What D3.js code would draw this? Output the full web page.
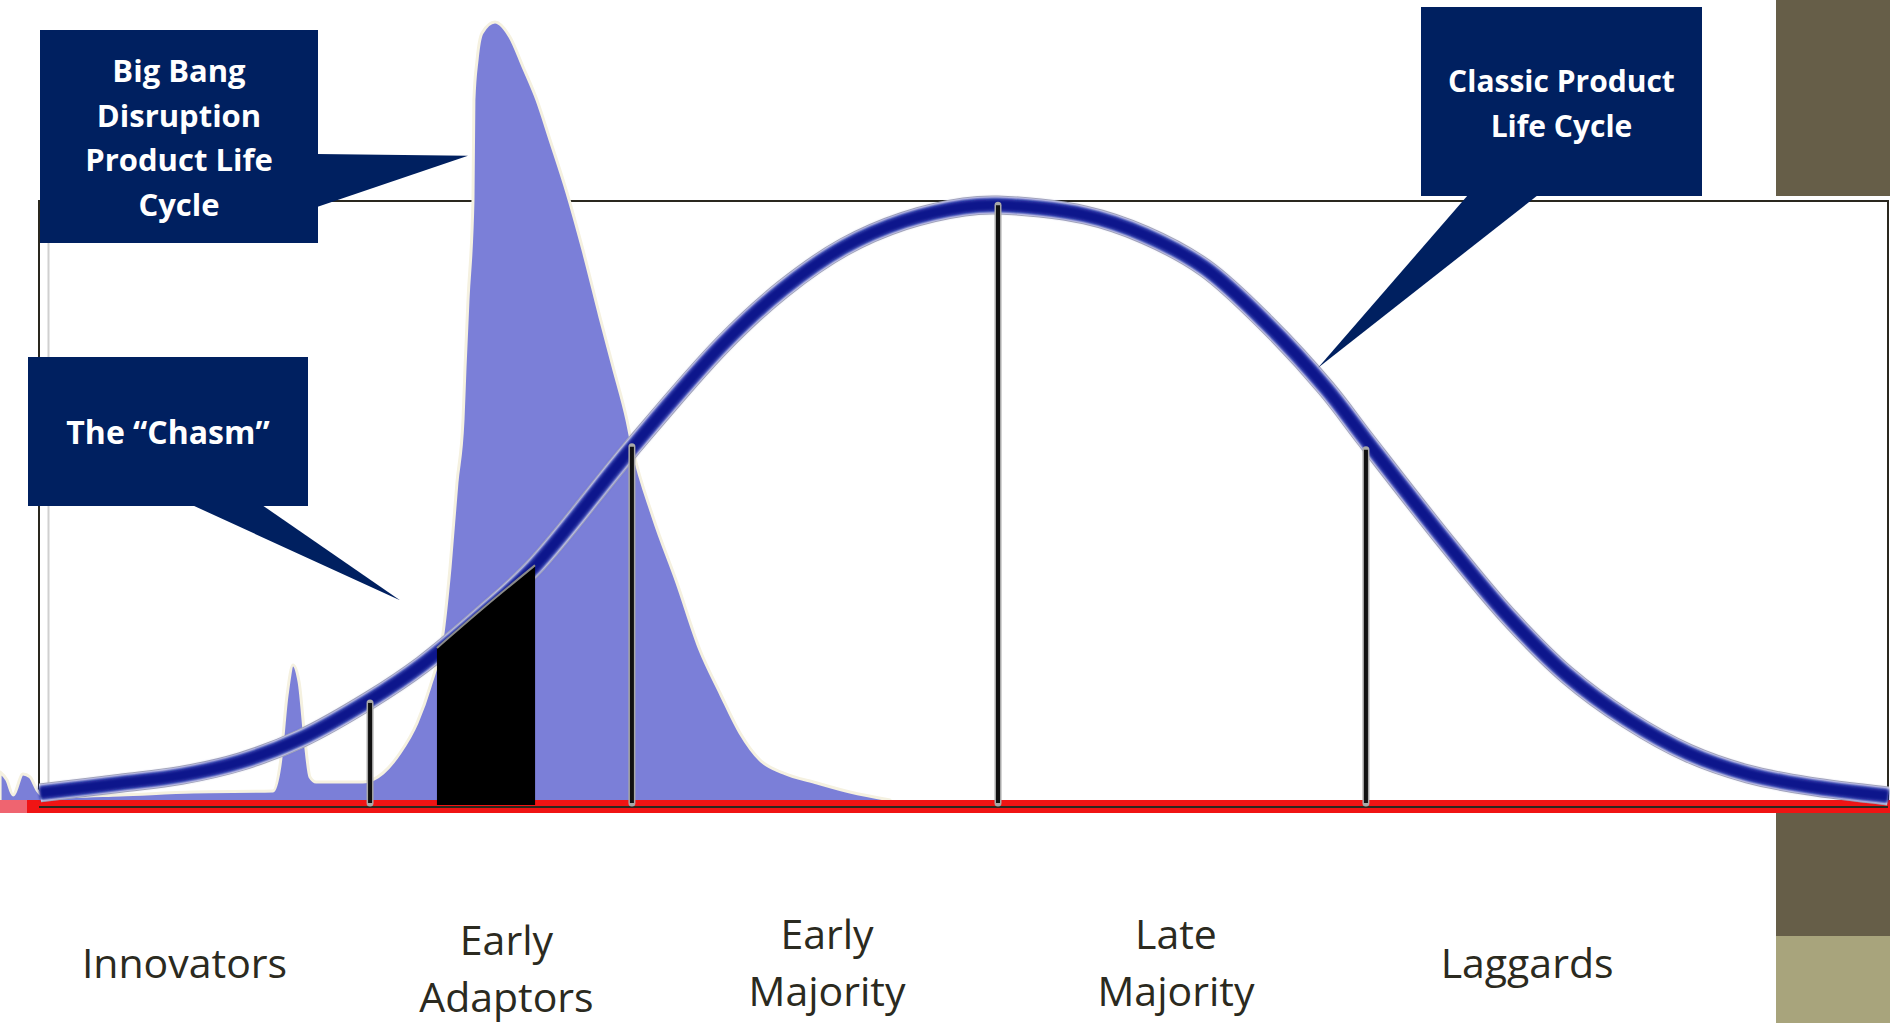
<!DOCTYPE html>
<html>
<head>
<meta charset="utf-8">
<script src="https://cdn.jsdelivr.net/npm/d3@7"></script>
<style>
  html, body { margin: 0; padding: 0; background: #ffffff; overflow: hidden; }
  svg { display: block; }
</style>
</head>
<body>
<svg id="chart"></svg>
<script>
// ---- Data (x: adoption time, 0–100 across the plot; y: adoption share, 0–100 = plot height) ----

// Classic product life cycle (bell curve)
const bellX = [0, 4.36, 7.63, 10.88, 14.12, 17.86, 20.67, 23.92, 26.73, 31.93, 36.96, 40.21, 43.51, 46.75,
               50.0, 51.84, 56.55, 59.79, 63.04, 66.34, 69.59, 71.75, 76.08, 79.38, 82.63, 85.88, 89.18,
               92.42, 95.67, 100];
const bellY = [2.0, 3.6, 4.9, 7.2, 11.0, 17.4, 23.18, 31.46, 39.40, 58.77, 76.32, 85.43, 92.38, 96.69,
               99.01, 99.34, 97.68, 94.37, 88.91, 79.8, 69.0, 60.43, 43.54, 31.46, 21.52, 14.2, 8.61,
               5.13, 3.15, 1.49];

// Big Bang disruption life cycle (filled area)
const bigBangX = [-2.16, -1.79, -1.46, -0.92, -0.54, -0.16, 0.27, 4.33, 8.28, 12.61, 12.99, 13.37, 13.69,
                  14.02, 14.34, 14.61, 14.94, 17.48, 18.56, 19.48, 20.40, 21.10, 21.81, 22.19, 22.56, 22.89,
                  23.00, 23.16, 23.43, 23.48, 23.65, 23.92, 24.62, 25.43, 26.14, 26.89, 27.60, 28.52, 29.38,
                  30.30, 31.01, 31.76, 32.09, 33.17, 34.47, 35.71, 36.80, 37.88, 38.96, 40.21, 42.05, 43.83,
                  46.00];
const bigBangY = [5.46, 4.14, 1.66, 5.13, 4.64, 2.48, 1.32, 1.66, 2.15, 2.32, 6.62, 18.21, 23.18,
                  20.36, 10.76, 4.64, 3.81, 3.81, 5.30, 8.61, 13.58, 19.54, 28.48, 39.40, 53.31, 63.74,
                  72.52, 83.61, 100.17, 116.72, 123.34, 127.81, 129.64, 127.15, 122.19, 116.72, 110.10, 101.32, 91.89,
                  80.79, 72.52, 63.74, 58.77, 47.68, 36.75, 25.66, 18.54, 11.92, 7.45, 5.30, 3.64, 2.15,
                  0.83];

// Segment boundaries on the bell curve
const markerX = [17.86, 32.03, 51.84, 71.75];
const markerTop = [16.9, 59.3, 99.3, 58.8];

// The chasm band
const chasmX = [21.48, 24.1, 26.79];
const chasmTop = [26.0, 32.9, 39.7];

// Adopter segments
const segmentNames = [["Innovators"], ["Early", "Adaptors"], ["Early", "Majority"], ["Late", "Majority"], ["Laggards"]];
const segmentX = [7.82, 25.24, 42.59, 61.47, 80.47];

// Callout texts and the points they refer to
const bigBangLabel = ["Big Bang", "Disruption", "Product Life", "Cycle"];
const chasmLabel = ["The \u201CChasm\u201D"];
const classicLabel = ["Classic Product", "Life Cycle"];
const calloutTargets = [[23.16, 107.5], [19.48, 33.9], [69.16, 72.4]];

// ---- Layout ----
const W = 1890, H = 1023;
const svg = d3.select("#chart").attr("width", W).attr("height", H);
svg.append("rect").attr("width", W).attr("height", H).attr("fill", "#ffffff");

const x = d3.scaleLinear().domain([0, 100]).range([40, 1888]);
const y = d3.scaleLinear().domain([0, 100]).range([805, 201]);

const defs = svg.append("defs");
defs.append("filter").attr("id", "soft")
  .attr("x", "-5%").attr("y", "-5%").attr("width", "110%").attr("height", "110%")
  .append("feGaussianBlur").attr("stdDeviation", 1.5);

const bell = bellX.map((v, i) => ({ x: v, y: bellY[i] }));
const bigBang = bigBangX.map((v, i) => ({ x: v, y: bigBangY[i] }));
const chasm = chasmX.map((v, i) => ({ x: v, y: chasmTop[i] }));

// Plot frame
svg.append("rect")
  .attr("x", x(0) - 1).attr("y", y(100)).attr("width", x(100) - x(0) + 1).attr("height", y(0) - y(100) + 2)
  .attr("fill", "none").attr("stroke", "#2a281f").attr("stroke-width", 2);
svg.append("line")
  .attr("x1", x(0) + 8.5).attr("x2", x(0) + 8.5).attr("y1", y(100) + 2).attr("y2", y(0))
  .attr("stroke", "#d0d0d0").attr("stroke-width", 2);

// Big Bang area
const area = d3.area().x(d => x(d.x)).y0(y(0)).y1(d => y(d.y)).curve(d3.curveMonotoneX);
svg.append("path").datum(bigBang).attr("d", area)
  .attr("fill", "#7b7fd8").attr("stroke", "#f5f1e0").attr("stroke-width", 3)
  .attr("stroke-linejoin", "round");

// Baseline band
svg.append("rect").attr("x", 0).attr("y", y(0) - 5).attr("width", W).attr("height", 13).attr("fill", "#f01414");
svg.append("rect").attr("x", 0).attr("y", y(0) - 5).attr("width", 27).attr("height", 13).attr("fill", "#ef6470");
svg.append("line")
  .attr("x1", x(0) - 1).attr("x2", x(100)).attr("y1", y(0) + 2).attr("y2", y(0) + 2)
  .attr("stroke", "#2a281f").attr("stroke-width", 2);

// Classic bell curve
const line = d3.line().x(d => x(d.x)).y(d => y(d.y)).curve(d3.curveCatmullRom.alpha(0.5));
const bellG = svg.append("g");
bellG.append("path").datum(bell).attr("d", line).attr("fill", "none")
  .attr("stroke", "#b4b4bc").attr("stroke-width", 19);
bellG.append("path").datum(bell).attr("d", line).attr("fill", "none")
  .attr("stroke", "#ffffff").attr("stroke-width", 17);
bellG.append("path").datum(bell).attr("d", line).attr("fill", "none")
  .attr("stroke", "#3a45b5").attr("stroke-width", 15).attr("filter", "url(#soft)");
bellG.append("path").datum(bell).attr("d", line).attr("fill", "none")
  .attr("stroke", "#0b168c").attr("stroke-width", 11).attr("filter", "url(#soft)");

// Chasm
const chasmArea = d3.area().x(d => x(d.x)).y0(y(0)).y1(d => y(d.y)).curve(d3.curveMonotoneX);
svg.append("path").datum(chasm).attr("d", chasmArea).attr("fill", "#000000");
svg.append("path").datum(chasm).attr("d", d3.line().x(d => x(d.x)).y(d => y(d.y)).curve(d3.curveMonotoneX))
  .attr("fill", "none").attr("stroke", "#8a8a8a").attr("stroke-width", 2);

// Segment markers
const markers = svg.append("g").selectAll("g").data(markerX).join("g");
markers.append("line")
  .attr("x1", d => x(d)).attr("x2", d => x(d))
  .attr("y1", (d, i) => y(markerTop[i])).attr("y2", y(0) - 2)
  .attr("stroke", "#a8a8a8").attr("stroke-width", 7).attr("stroke-linecap", "round");
markers.append("line")
  .attr("x1", d => x(d)).attr("x2", d => x(d))
  .attr("y1", (d, i) => y(markerTop[i])).attr("y2", y(0) - 2)
  .attr("stroke", "#111111").attr("stroke-width", 4);

// Callouts
const navy = "#002060";
function callout(box, pointer, target, lines, fontSize, firstBaseline, lineHeight) {
  const g = svg.append("g");
  g.append("rect").attr("x", box[0]).attr("y", box[1]).attr("width", box[2]).attr("height", box[3]).attr("fill", navy);
  const tip = [x(target[0]), y(target[1])];
  g.append("path")
    .attr("d", `M${pointer[0][0]},${pointer[0][1]}L${tip[0]},${tip[1]}L${pointer[1][0]},${pointer[1][1]}Z`)
    .attr("fill", navy);
  g.append("text")
    .attr("x", box[0] + box[2] / 2).attr("y", firstBaseline)
    .attr("text-anchor", "middle").attr("fill", "#ffffff")
    .attr("font-family", "'Open Sans', sans-serif").attr("font-weight", 700).attr("font-size", fontSize)
    .selectAll("tspan").data(lines).join("tspan")
    .attr("x", box[0] + box[2] / 2).attr("dy", (d, i) => i === 0 ? 0 : lineHeight)
    .text(d => d);
}
callout([40, 30, 278, 213], [[317, 154], [317, 207]], calloutTargets[0], bigBangLabel, 31, 82, 44.7);
callout([28, 357, 280, 149], [[192, 505], [262, 505]], calloutTargets[1], chasmLabel, 32, 444, 0);
callout([1421, 7, 281, 189], [[1468, 195], [1538, 195]], calloutTargets[2], classicLabel, 30, 92, 45);

// Side decoration
svg.append("rect").attr("x", 1776).attr("y", 0).attr("width", W - 1776).attr("height", 196).attr("fill", "#665e48");
svg.append("rect").attr("x", 1776).attr("y", 813).attr("width", W - 1776).attr("height", 123).attr("fill", "#665e48");
svg.append("rect").attr("x", 1776).attr("y", 936).attr("width", W - 1776).attr("height", H - 936).attr("fill", "#a8a47c");

// Segment labels
const labelShift = [0, 6, 0, 0, 0];
svg.append("g").selectAll("text").data(segmentNames).join("text")
  .attr("text-anchor", "middle")
  .attr("font-family", "'Open Sans', sans-serif").attr("font-size", 41).attr("fill", "#2b2a20")
  .attr("y", (d, i) => (d.length === 1 ? 978 : 949) + labelShift[i])
  .each(function (d, i) {
    d3.select(this).selectAll("tspan").data(d).join("tspan")
      .attr("x", x(segmentX[i])).attr("dy", (t, j) => j === 0 ? 0 : 57)
      .text(t => t);
  });
</script>
</body>
</html>
